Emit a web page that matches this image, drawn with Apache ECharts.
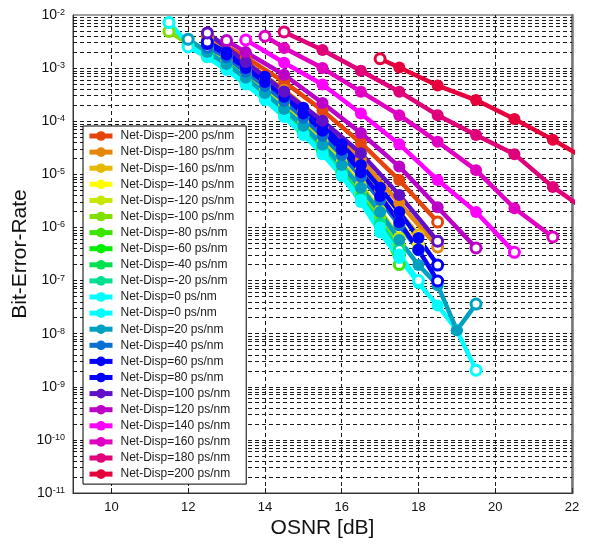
<!DOCTYPE html>
<html>
<head>
<meta charset="utf-8">
<script src="https://cdn.jsdelivr.net/npm/echarts@6/dist/echarts.min.js"></script>
<style>
  html, body { margin: 0; padding: 0; background: #fff; }
  #chart { width: 592px; height: 545px; }
</style>
</head>
<body>
<div id="chart"></div>
<script>
// Legend names (one per curve, drawn in this order)
const dispNames = [
  'Net-Disp=-200 ps/nm', 'Net-Disp=-180 ps/nm', 'Net-Disp=-160 ps/nm', 'Net-Disp=-140 ps/nm',
  'Net-Disp=-120 ps/nm', 'Net-Disp=-100 ps/nm', 'Net-Disp=-80 ps/nm', 'Net-Disp=-60 ps/nm',
  'Net-Disp=-40 ps/nm', 'Net-Disp=-20 ps/nm', 'Net-Disp=0 ps/nm', 'Net-Disp=0 ps/nm\u200b',
  'Net-Disp=20 ps/nm', 'Net-Disp=40 ps/nm', 'Net-Disp=60 ps/nm', 'Net-Disp=80 ps/nm',
  'Net-Disp=100 ps/nm', 'Net-Disp=120 ps/nm', 'Net-Disp=140 ps/nm', 'Net-Disp=160 ps/nm',
  'Net-Disp=180 ps/nm', 'Net-Disp=200 ps/nm'
];

const curveColors = [
  '#e5450c', '#e6860a', '#e6b800', '#ffff00', '#c8e600', '#80e000', '#3ce600', '#00f000',
  '#00e050', '#00e090', '#00ffff', '#00ffff', '#00a0c0', '#0a6ed2', '#0000ff', '#0000ff',
  '#6010c8', '#bb00c8', '#ff00ff', '#e100c2', '#e0007a', '#e6003c'
];

// [OSNR dB, BER] per net dispersion
const ber_m200 = [[12.5,4.1e-3],[13.5,1.6e-3],[14.5,5.5e-4],[15.5,1.6e-4],[16.5,3.9e-5],[17.5,7.8e-6],[18.5,1.27e-6]];
const ber_m180 = [[12.5,3.7e-3],[13.5,1.3e-3],[14.5,3.9e-4],[15.5,9.7e-5],[16.5,1.9e-5],[17.5,2.9e-6],[18.5,4.3e-7]];
const ber_m160 = [[12.5,3.1e-3],[13,1.95e-3],[13.5,1.1e-3],[14,6.3e-4],[14.5,3.3e-4],[15,1.6e-4],[15.5,7.5e-5],[16,3.3e-5],[16.5,1.3e-5],[17,5.1e-6],[17.5,1.95e-6],[18,7.2e-7]];
const ber_m140 = [[12.5,2.9e-3],[13,1.7e-3],[13.5,9.3e-4],[14,5.1e-4],[14.5,2.5e-4],[15,1.2e-4],[15.5,5.5e-5],[16,2.3e-5],[16.5,9.0e-6],[17,3.3e-6],[17.5,1.27e-6],[18,4.6e-7]];
const ber_m120 = [[12.5,2.4e-3],[13,1.4e-3],[13.5,7.8e-4],[14,4.1e-4],[14.5,2.0e-4],[15,9.7e-5],[15.5,4.2e-5],[16,1.7e-5],[16.5,6.3e-6],[17,2.1e-6],[17.5,6.3e-7]];
const ber_m100 = [[11.5,4.9e-3],[12,2.9e-3],[12.5,1.9e-3],[13,1.1e-3],[13.5,6.0e-4],[14,3.1e-4],[14.5,1.5e-4],[15,6.9e-5],[15.5,3.15e-5],[16,1.2e-5],[16.5,4.5e-6],[17,1.55e-6],[17.5,4.7e-7]];
const ber_m80  = [[12,2.6e-3],[12.5,1.7e-3],[13,1.0e-3],[13.5,5.5e-4],[14,2.9e-4],[14.5,1.35e-4],[15,6.6e-5],[15.5,2.9e-5],[16,1.1e-5],[16.5,3.7e-6],[17,1.15e-6],[17.5,2.0e-7]];
const ber_m60  = [[12.5,1.65e-3],[13,9.7e-4],[13.5,5.3e-4],[14,2.8e-4],[14.5,1.3e-4],[15,6.0e-5],[15.5,2.65e-5],[16,1.0e-5],[16.5,3.45e-6],[17,1.05e-6],[17.5,2.9e-7]];
const ber_m40  = [[12.5,1.7e-3],[13,1.0e-3],[13.5,5.3e-4],[14,2.8e-4],[14.5,1.3e-4],[15,6.0e-5],[15.5,2.75e-5],[16,1.05e-5],[16.5,3.6e-6],[17,1.1e-6],[17.5,3.2e-7]];
const ber_m20  = [[12.5,1.8e-3],[13,1.05e-3],[13.5,5.5e-4],[14,2.9e-4],[14.5,1.35e-4],[15,6.3e-5],[15.5,2.9e-5],[16,1.1e-5],[16.5,3.7e-6],[17,1.2e-6],[17.5,3.8e-7]];
const ber_0a   = [[11.5,7.2e-3],[12,2.9e-3],[12.5,1.65e-3],[13,9.3e-4],[13.5,4.9e-4],[14,2.5e-4],[14.5,1.2e-4],[15,5.5e-5],[15.5,2.4e-5],[16,9.3e-6],[16.5,3.0e-6],[17,8.0e-7],[17.5,2.65e-7],[18,9.0e-8],[18.5,3.4e-8],[19,1.16e-8],[19.5,2.05e-9]];
const ber_0b   = [[12,2.5e-3],[12.5,1.6e-3],[13,9.3e-4],[13.5,5.1e-4],[14,2.65e-4],[14.5,1.25e-4],[15,5.7e-5],[15.5,2.5e-5],[16,9.7e-6],[16.5,3.3e-6],[17,1.0e-6],[17.5,3.1e-7],[18,1.0e-7]];
const ber_p20  = [[12,3.5e-3],[12.5,2.0e-3],[13,1.2e-3],[13.5,6.6e-4],[14,3.4e-4],[14.5,1.7e-4],[15,8.2e-5],[15.5,3.6e-5],[16,1.5e-5],[16.5,5.6e-6],[17,1.95e-6],[17.5,5.8e-7],[18,1.96e-7],[18.5,8.2e-8],[19,1.16e-8],[19.5,3.6e-8]];
const ber_p40  = [[12.5,2.5e-3],[13,1.6e-3],[13.5,8.5e-4],[14,4.6e-4],[14.5,2.4e-4],[15,1.16e-4],[15.5,5.3e-5],[16,2.3e-5],[16.5,9.0e-6],[17,3.3e-6],[17.5,1.1e-6],[18,3.8e-7]];
const ber_p60  = [[12.5,2.9e-3],[13,1.8e-3],[13.5,1.0e-3],[14,5.5e-4],[14.5,2.9e-4],[15,1.4e-4],[15.5,6.6e-5],[16,2.9e-5],[16.5,1.1e-5],[17,3.9e-6],[17.5,1.27e-6],[18,3.8e-7],[18.5,9.8e-8]];
const ber_p80  = [[12.5,3.1e-3],[13,2.0e-3],[13.5,1.2e-3],[14,6.9e-4],[14.5,3.6e-4],[15,1.8e-4],[15.5,8.5e-5],[16,3.7e-5],[16.5,1.5e-5],[17,5.6e-6],[17.5,1.95e-6],[18,6.3e-7],[18.5,1.96e-7]];
const ber_p100 = [[12.5,4.6e-3],[13.5,1.3e-3],[14.5,3.6e-4],[15.5,1.02e-4],[16.5,2.5e-5],[17.5,4.1e-6],[18.5,5.5e-7]];
const ber_p120 = [[13,3.3e-3],[13.5,2.0e-3],[14.5,7.5e-4],[15.5,2.2e-4],[16.5,6.0e-5],[17.5,1.4e-5],[18.5,2.4e-6],[19.5,4.1e-7]];
const ber_p140 = [[13.5,3.4e-3],[14.5,1.26e-3],[15.5,4.9e-4],[16.5,1.4e-4],[17.5,3.7e-5],[18.5,7.8e-6],[19.5,1.95e-6],[20.5,3.4e-7]];
const ber_p160 = [[14,4.0e-3],[14.5,2.4e-3],[15.5,1.0e-3],[16.5,3.6e-4],[17.5,1.3e-4],[18.5,4.1e-5],[19.5,1.2e-5],[20.5,2.3e-6],[21.5,6.6e-7]];
const ber_p180 = [[14.5,4.8e-3],[15.5,2.2e-3],[16.5,8.9e-4],[17.5,3.6e-4],[18.5,1.3e-4],[19.5,5.5e-5],[20.5,2.4e-5],[21.5,5.8e-6],[22.5,1.8e-6]];
const ber_p200 = [[17,1.5e-3],[17.5,1.03e-3],[18.5,4.7e-4],[19.5,2.5e-4],[20.5,1.1e-4],[21.5,4.5e-5],[22.5,1.7e-5]];

const curves = [
  ber_m200, ber_m180, ber_m160, ber_m140, ber_m120, ber_m100, ber_m80, ber_m60,
  ber_m40, ber_m20, ber_0a, ber_0b, ber_p20, ber_p40, ber_p60, ber_p80,
  ber_p100, ber_p120, ber_p140, ber_p160, ber_p180, ber_p200
];

// Axis ticks and grid positions
const xTicks = [10, 12, 14, 16, 18, 20, 22];
const xGrid = [10, 12, 14, 16, 18, 20];
const decades = [-11, -10, -9, -8, -7, -6, -5, -4, -3];
const minorMult = [2, 3, 4, 5, 6, 7, 8, 9];

// Horizontal grid lines as decade exponents (drawn on a linear helper axis)
const yGridExp = [];
decades.forEach(d => {
  if (d > -11) yGridExp.push(d);
  minorMult.forEach(m => yGridExp.push(d + Math.log10(m)));
});

const FONT = '"Liberation Sans", Arial, sans-serif';

const dataSeries = curves.map((pts, i) => ({
  name: dispNames[i],
  type: 'line',
  z: 3,
  symbol: 'circle',
  symbolSize: 12,
  showAllSymbol: true,
  clip: true,
  lineStyle: { width: 4.5, color: curveColors[i] },
  itemStyle: { color: curveColors[i], borderWidth: 0 },
  emphasis: { disabled: true },
  data: pts.map((p, j) => (j === 0 || j === pts.length - 1)
    ? { value: p, symbolSize: 10, itemStyle: { color: '#ffffff', borderColor: curveColors[i], borderWidth: 3 } }
    : p)
}));

const gridSeries = {
  type: 'line',
  yAxisIndex: 1,
  data: [],
  silent: true,
  z: 1,
  markLine: {
    z: 1,
    silent: true,
    symbol: 'none',
    animation: false,
    label: { show: false },
    emphasis: { disabled: true },
    lineStyle: { color: '#1a1a1a', width: 1, type: [4, 3] },
    data: xGrid.map(v => ({ xAxis: v })).concat(yGridExp.map(v => ({ yAxis: v })))
  }
};

const chart = echarts.init(document.getElementById('chart'), null, { renderer: 'canvas' });
chart.setOption({
  animation: false,
  backgroundColor: '#ffffff',
  grid: {
    left: 73, right: 20, top: 15, bottom: 52,
    containLabel: false,
    outerBoundsMode: 'none',
    show: true, borderColor: '#444', borderWidth: 1, backgroundColor: 'transparent'
  },
  xAxis: {
    type: 'value',
    min: 9, max: 22,
    name: 'OSNR [dB]',
    nameLocation: 'middle',
    nameGap: 25,
    nameMoveOverlap: false,
    nameTextStyle: { fontFamily: FONT, fontSize: 21, color: '#111' },
    axisLine: { show: true, lineStyle: { color: '#333', width: 1 } },
    axisTick: { show: true, inside: true, length: 5, customValues: xTicks, lineStyle: { color: '#333' } },
    axisLabel: { customValues: xTicks, fontFamily: FONT, fontSize: 13, color: '#111', margin: 8 },
    splitLine: { show: false }
  },
  yAxis: [{
    type: 'log',
    logBase: 10,
    min: 1e-11, max: 1e-2,
    interval: 1,
    name: 'Bit-Error-Rate',
    nameLocation: 'middle',
    nameGap: 42,
    nameMoveOverlap: false,
    nameTextStyle: { fontFamily: FONT, fontSize: 21, color: '#111' },
    axisLine: { show: true, lineStyle: { color: '#333', width: 1 } },
    axisTick: { show: false },
    splitLine: { show: false },
    axisLabel: {
      margin: 8,
      formatter: v => '{b|10}{s|' + Math.round(Math.log10(v)) + '}',
      rich: {
        b: { fontFamily: FONT, fontSize: 14, color: '#111', lineHeight: 14, padding: [3, 0, 0, 0], verticalAlign: 'bottom' },
        s: { fontFamily: FONT, fontSize: 9, color: '#111', lineHeight: 4, verticalAlign: 'top' }
      }
    }
  }, {
    type: 'value',
    min: -11, max: -2,
    position: 'right',
    axisLine: { show: true, lineStyle: { color: '#777', width: 2.5 } },
    axisTick: { show: false },
    axisLabel: { show: false },
    splitLine: { show: false }
  }],
  legend: {
    z: 10,
    orient: 'vertical',
    left: 83, top: 126,
    padding: [4, 12, 4, 4],
    itemWidth: 23, itemHeight: 12, itemGap: 4.1,
    backgroundColor: '#ffffff',
    borderColor: '#000', borderWidth: 1,
    selectedMode: false,
    lineStyle: { width: 5 },
    data: dispNames,
    textStyle: { fontFamily: FONT, fontSize: 12, color: '#1a1a1a', lineHeight: 12, padding: [0, 0, 0, 3] }
  },
  series: [gridSeries].concat(dataSeries)
});
</script>
</body>
</html>
